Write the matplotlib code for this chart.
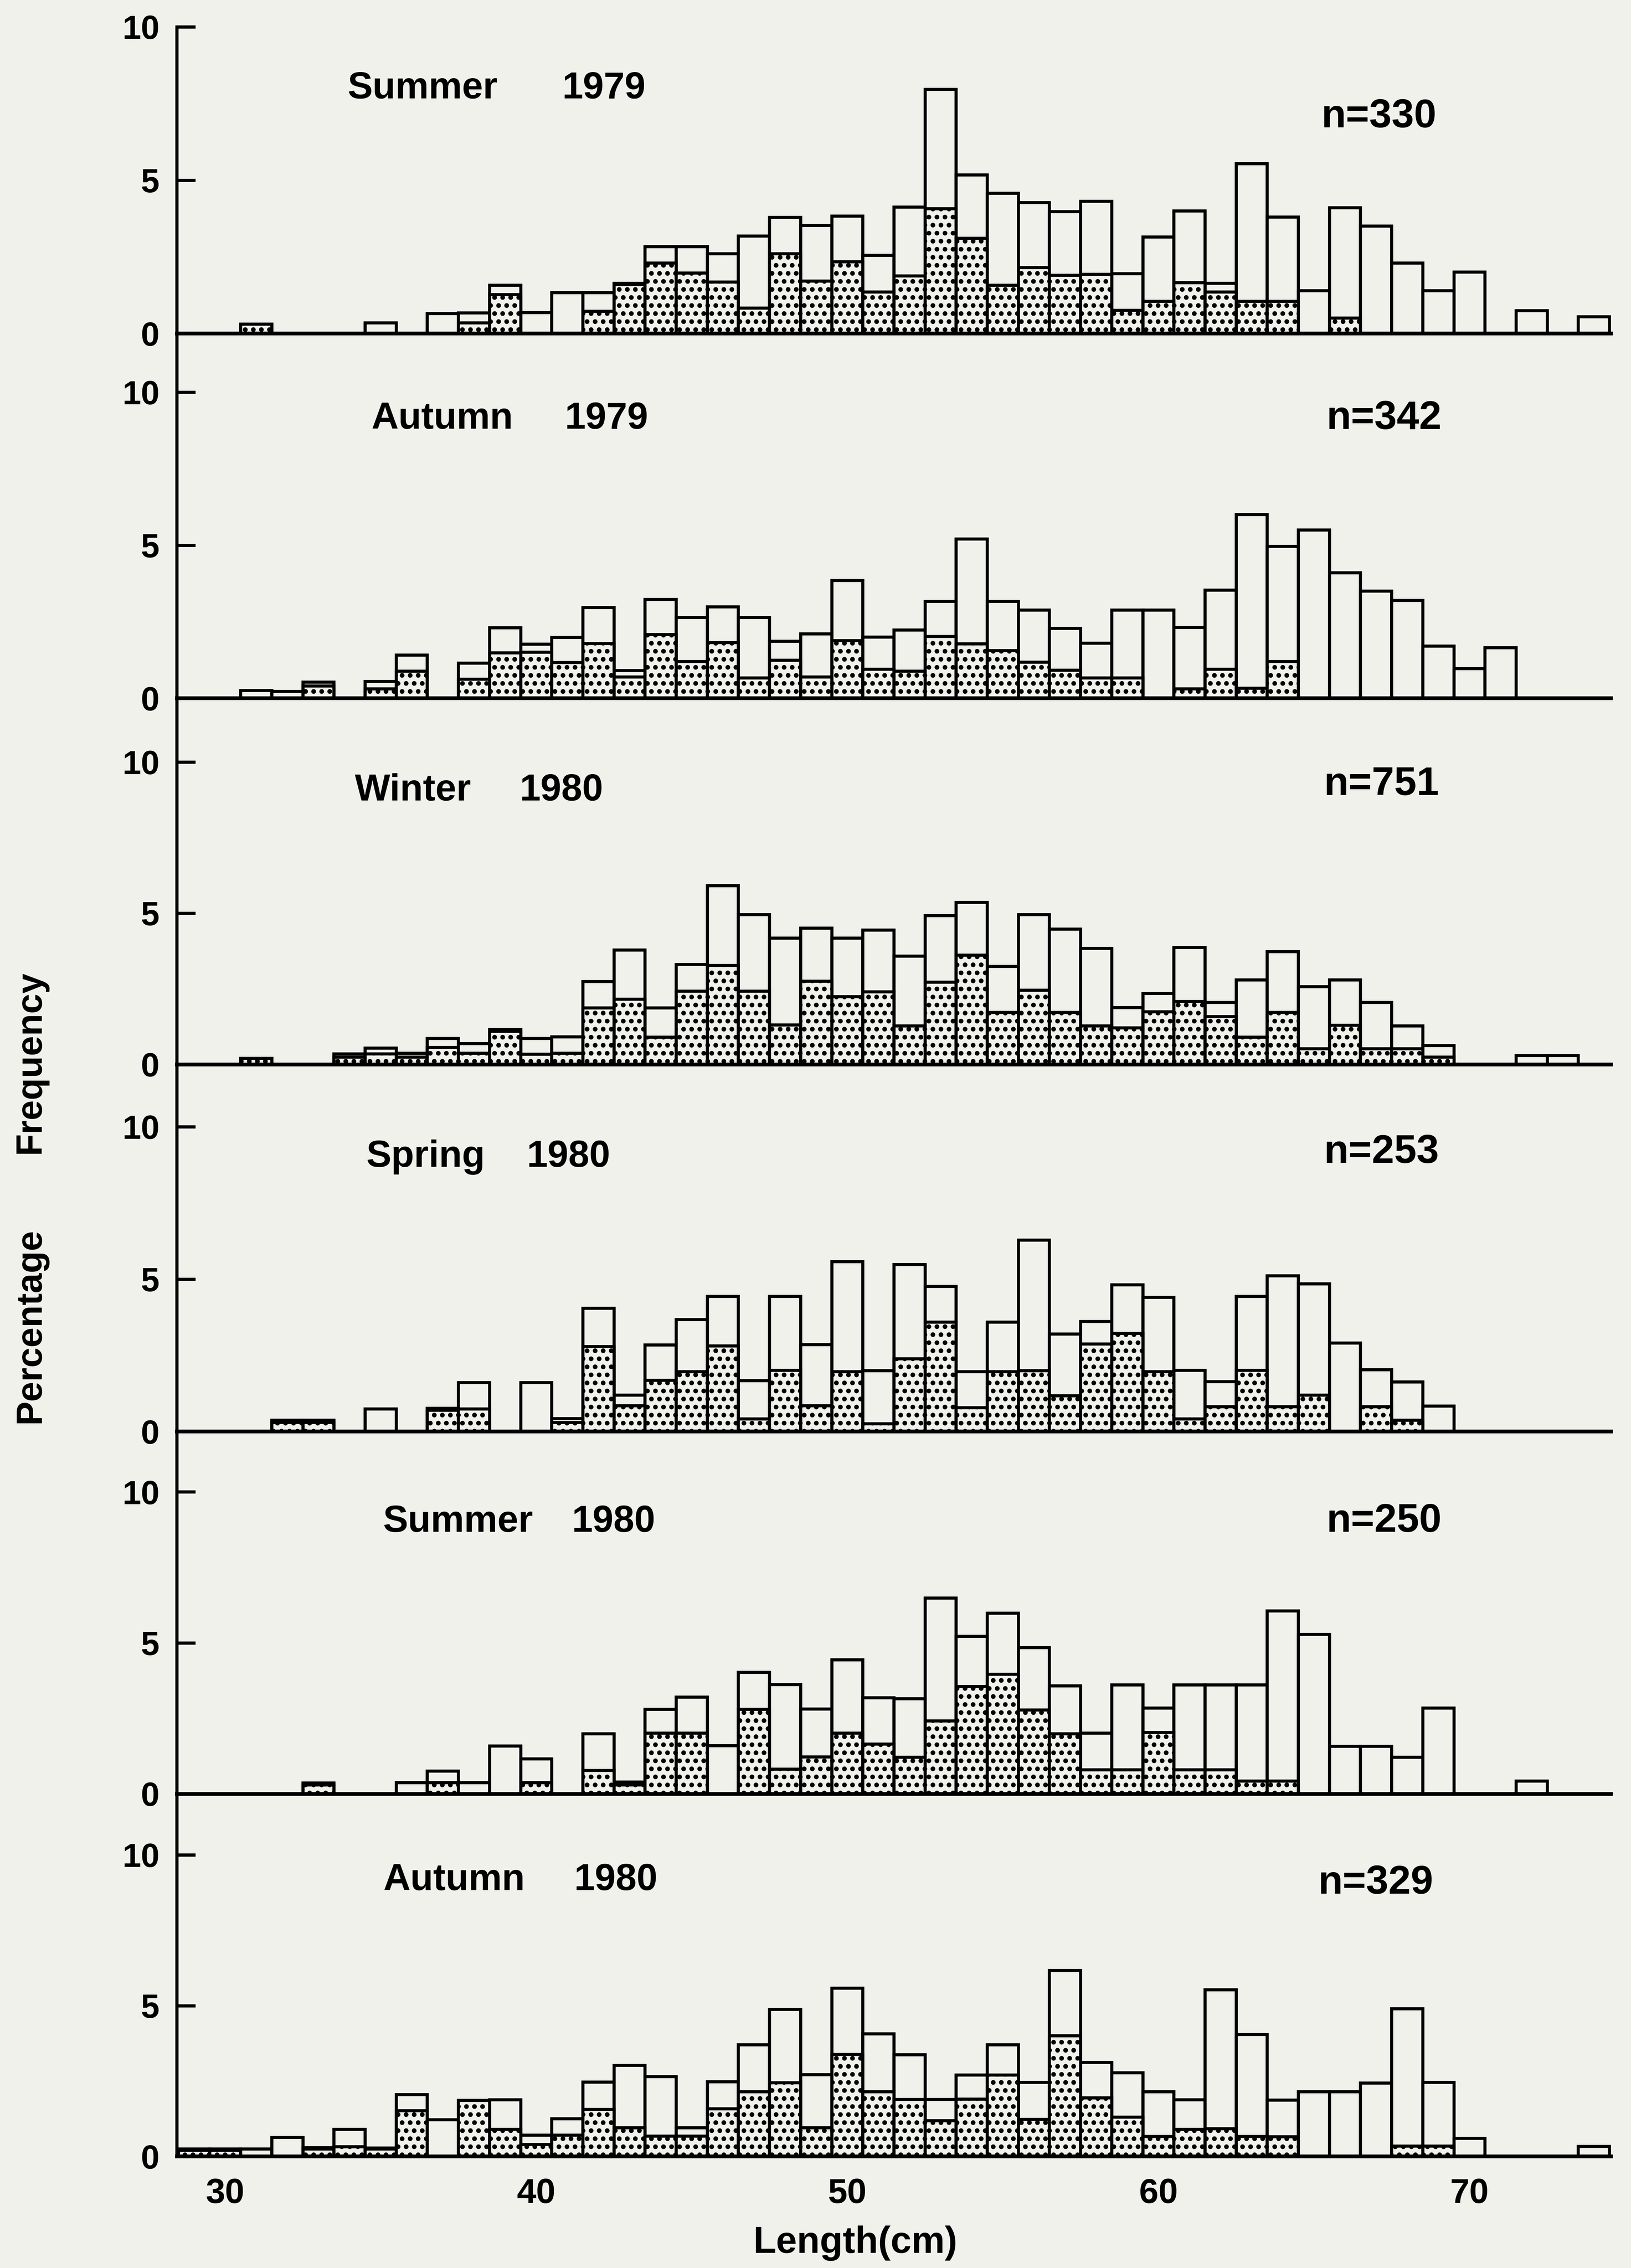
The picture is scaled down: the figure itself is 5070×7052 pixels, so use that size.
import numpy as np
import matplotlib
matplotlib.use("Agg")
import matplotlib.pyplot as plt

plt.rcParams["font.family"] = ["Liberation Sans", "DejaVu Sans"]
plt.rcParams["font.weight"] = "bold"
plt.rcParams["hatch.linewidth"] = 2.3

# 1-cm length classes (bar centres)
lengths = np.arange(29, 75)

# percentage frequency per length class: whole bar and stippled part
summer79_total = [0, 0, 0.3, 0, 0, 0, 0.35, 0, 0.65, 0.67, 1.57, 0.68, 1.33, 1.33, 1.64, 2.83,
                  2.83, 2.6, 3.18, 3.79, 3.53, 3.83, 2.55, 4.12, 7.96, 5.17, 4.57, 4.27, 3.98,
                  4.31, 1.95, 3.15, 4.0, 1.64, 5.54, 3.8, 1.4, 4.1, 3.5, 2.3, 1.4, 2.0, 0, 0.75,
                  0, 0.55]
summer79_stip = [0, 0, 0.3, 0, 0, 0, 0, 0, 0, 0.35, 1.27, 0, 0, 0.72, 1.6, 2.3, 1.97, 1.68,
                 0.83, 2.6, 1.71, 2.34, 1.35, 1.88, 4.07, 3.11, 1.57, 2.15, 1.9, 1.93, 0.76,
                 1.05, 1.66, 1.35, 1.05, 1.05, 0, 0.5, 0, 0, 0, 0, 0, 0, 0, 0]

autumn79_total = [0, 0, 0.25, 0.22, 0.53, 0, 0.55, 1.41, 0, 1.15, 2.3, 1.77, 1.99, 2.97, 0.9,
                  3.23, 2.64, 2.99, 2.64, 1.86, 2.1, 3.85, 2.0, 2.23, 3.16, 5.2, 3.16, 2.88,
                  2.28, 1.8, 2.88, 2.88, 2.31, 3.53, 6.0, 4.96, 5.5, 4.1, 3.5, 3.2, 1.7, 0.97,
                  1.65, 0, 0, 0]
autumn79_stip = [0, 0, 0, 0, 0.4, 0, 0.3, 0.88, 0, 0.62, 1.48, 1.5, 1.17, 1.79, 0.69, 2.08,
                 1.2, 1.82, 0.66, 1.24, 0.69, 1.88, 0.95, 0.88, 2.02, 1.78, 1.56, 1.18, 0.91,
                 0.66, 0.66, 0, 0.3, 0.95, 0.33, 1.2, 0, 0, 0, 0, 0, 0, 0, 0, 0, 0]

winter80_total = [0, 0, 0.2, 0, 0, 0.35, 0.54, 0.37, 0.86, 0.69, 1.16, 0.86, 0.91, 2.75, 3.79,
                  1.87, 3.31, 5.91, 4.96, 4.18, 4.51, 4.18, 4.45, 3.58, 4.93, 5.36, 3.25, 4.96,
                  4.48, 3.84, 1.88, 2.35, 3.87, 2.05, 2.8, 3.73, 2.57, 2.8, 2.05, 1.28, 0.63,
                  0, 0, 0.3, 0.3, 0]
winter80_stip = [0, 0, 0.2, 0, 0, 0.25, 0.35, 0.25, 0.56, 0.37, 1.1, 0.34, 0.37, 1.87, 2.16,
                 0.9, 2.43, 3.28, 2.43, 1.31, 2.76, 2.24, 2.4, 1.28, 2.72, 3.62, 1.72, 2.46,
                 1.72, 1.28, 1.21, 1.75, 2.09, 1.58, 0.9, 1.72, 0.52, 1.3, 0.52, 0.52, 0.25,
                 0, 0, 0, 0, 0]

spring80_total = [0, 0, 0, 0.37, 0.37, 0, 0.74, 0, 0.76, 1.61, 0, 1.61, 0.42, 4.04, 1.19, 2.84,
                  3.68, 4.44, 1.67, 4.44, 2.85, 5.58, 2.0, 5.48, 4.76, 1.96, 3.59, 6.28, 3.2,
                  3.61, 4.81, 4.4, 2.01, 1.64, 4.43, 5.11, 4.85, 2.9, 2.03, 1.63, 0.83, 0, 0,
                  0, 0, 0]
spring80_stip = [0, 0, 0, 0.3, 0.3, 0, 0, 0, 0.7, 0.74, 0, 0, 0.3, 2.79, 0.85, 1.68, 1.96,
                 2.81, 0.41, 2.01, 0.85, 1.96, 0.25, 2.39, 3.59, 0.78, 1.96, 2.0, 1.17, 2.87,
                 3.22, 1.96, 0.41, 0.81, 2.01, 0.81, 1.19, 0, 0.81, 0.37, 0, 0, 0, 0, 0, 0]

summer80_total = [0, 0, 0, 0, 0.36, 0, 0, 0.37, 0.76, 0.37, 1.59, 1.16, 0, 1.99, 0.39, 2.8,
                  3.21, 1.6, 4.03, 3.62, 2.81, 4.44, 3.18, 3.15, 6.49, 5.22, 5.99, 4.85, 3.58,
                  2.01, 3.61, 2.84, 3.61, 3.61, 3.61, 6.06, 5.28, 1.58, 1.58, 1.21, 2.84, 0, 0,
                  0.43, 0, 0]
summer80_stip = [0, 0, 0, 0, 0.3, 0, 0, 0, 0.37, 0, 0, 0.37, 0, 0.78, 0.3, 2.01, 2.01, 0,
                 2.8, 0.82, 1.23, 2.01, 1.65, 1.21, 2.42, 3.56, 3.96, 2.78, 1.99, 0.8, 0.8,
                 2.03, 0.8, 0.8, 0.43, 0.43, 0, 0, 0, 0, 0, 0, 0, 0, 0, 0]

autumn80_total = [0.25, 0.25, 0.25, 0.63, 0.29, 0.9, 0.28, 2.05, 1.22, 1.86, 1.88, 0.7, 1.25,
                  2.47, 3.02, 2.65, 0.95, 2.48, 3.7, 4.88, 2.71, 5.58, 4.07, 3.37, 1.89, 2.7,
                  3.7, 2.45, 6.17, 3.12, 2.77, 2.15, 1.88, 5.53, 4.04, 1.87, 2.15, 2.15, 2.43,
                  4.9, 2.45, 0.6, 0, 0, 0, 0.33]
autumn80_stip = [0.2, 0.2, 0, 0, 0.25, 0.32, 0.25, 1.52, 0, 1.86, 0.9, 0.4, 0.7, 1.56, 0.95,
                 0.67, 0.67, 1.58, 2.14, 2.44, 0.95, 3.38, 2.14, 1.89, 1.18, 1.9, 2.7, 1.23,
                 4.0, 1.94, 1.3, 0.66, 0.9, 0.92, 0.66, 0.65, 0, 0, 0, 0.34, 0.34, 0, 0, 0,
                 0, 0]

seasons = ["Summer", "Autumn", "Winter", "Spring", "Summer", "Autumn"]
years = ["1979", "1979", "1980", "1980", "1980", "1980"]
sample_sizes = ["n=330", "n=342", "n=751", "n=253", "n=250", "n=329"]
y_ticks = [0, 5, 10]
x_ticks = [30, 40, 50, 60, 70]

totals = [summer79_total, autumn79_total, winter80_total,
          spring80_total, summer80_total, autumn80_total]
stips = [summer79_stip, autumn79_stip, winter80_stip,
         spring80_stip, summer80_stip, autumn80_stip]

# page layout in pixels of the 5070 x 7052 output
W, H = 5070, 7052
BG = "#f1f1ec"
AXIS_LEFT = 550
X_MIN, X_MAX = 28.45, 74.55
PX_PER_CM = 96.7
BASELINES = [1037, 2171, 3310, 4451, 5578, 6705]
TEN_MARKS = [84, 1220, 2370, 3504, 4639, 5768]
SEASON_X = [1081, 1154, 1103, 1139, 1191, 1191]
YEAR_X = [1748, 1756, 1616, 1638, 1778, 1785]
TITLE_BASE = [306, 1333, 2489, 3628, 4763, 5877]
N_X = [4108, 4124, 4116, 4116, 4124, 4098]
N_BASE = [396, 1334, 2472, 3616, 4763, 5888]

fig = plt.figure(figsize=(W / 300, H / 300), dpi=300, facecolor=BG)


def fx(px):
    return px / W


def fy(py):
    return 1 - py / H


for i in range(6):
    y0 = BASELINES[i]
    unit = (y0 - TEN_MARKS[i]) / 10
    top_px = TEN_MARKS[i] if i == 0 else BASELINES[i - 1]
    ax = fig.add_axes([fx(AXIS_LEFT), fy(y0), (X_MAX - X_MIN) * PX_PER_CM / W,
                       (y0 - top_px) / H])
    ax.set_facecolor("none")
    ax.set_xlim(X_MIN, X_MAX)
    ax.set_ylim(0, (y0 - top_px) / unit)

    tot = np.array(totals[i])
    stp = np.array(stips[i])
    m = tot > 0
    ax.bar(lengths[m], tot[m], width=1.0, color=BG, edgecolor="black",
           linewidth=2.3, zorder=2)
    m = stp > 0
    ax.bar(lengths[m], stp[m], width=1.0, color=BG, edgecolor="black",
           hatch="..", linewidth=2.3, zorder=3)

    for s in ["top", "right"]:
        ax.spines[s].set_visible(False)
    ax.spines["left"].set_linewidth(2.4)
    ax.spines["bottom"].set_linewidth(2.8)
    ax.spines["bottom"].set_zorder(4)

    ax.set_yticks(y_ticks)
    ax.tick_params(axis="y", direction="in", length=14, width=2.4,
                   labelsize=25, pad=13)
    if i == 5:
        ax.set_xticks(x_ticks)
        ax.tick_params(axis="x", length=0, labelsize=26, pad=16)
    else:
        ax.tick_params(axis="x", bottom=False, labelbottom=False)

    fig.text(fx(SEASON_X[i]), fy(TITLE_BASE[i]), seasons[i], fontsize=28,
             va="baseline", ha="left")
    fig.text(fx(YEAR_X[i]), fy(TITLE_BASE[i]), years[i], fontsize=28,
             va="baseline", ha="left")
    fig.text(fx(N_X[i]), fy(N_BASE[i]), sample_sizes[i], fontsize=30,
             va="baseline", ha="left")

fig.text(fx(95), fy(4122), "Percentage", rotation=90, fontsize=27,
         ha="center", va="center")
fig.text(fx(95), fy(3303), "Frequency", rotation=90, fontsize=27,
         ha="center", va="center")
fig.text(fx(2659), fy(7005), "Length(cm)", fontsize=28, ha="center",
         va="baseline")

fig.savefig("out.png", dpi=300, facecolor=BG)
